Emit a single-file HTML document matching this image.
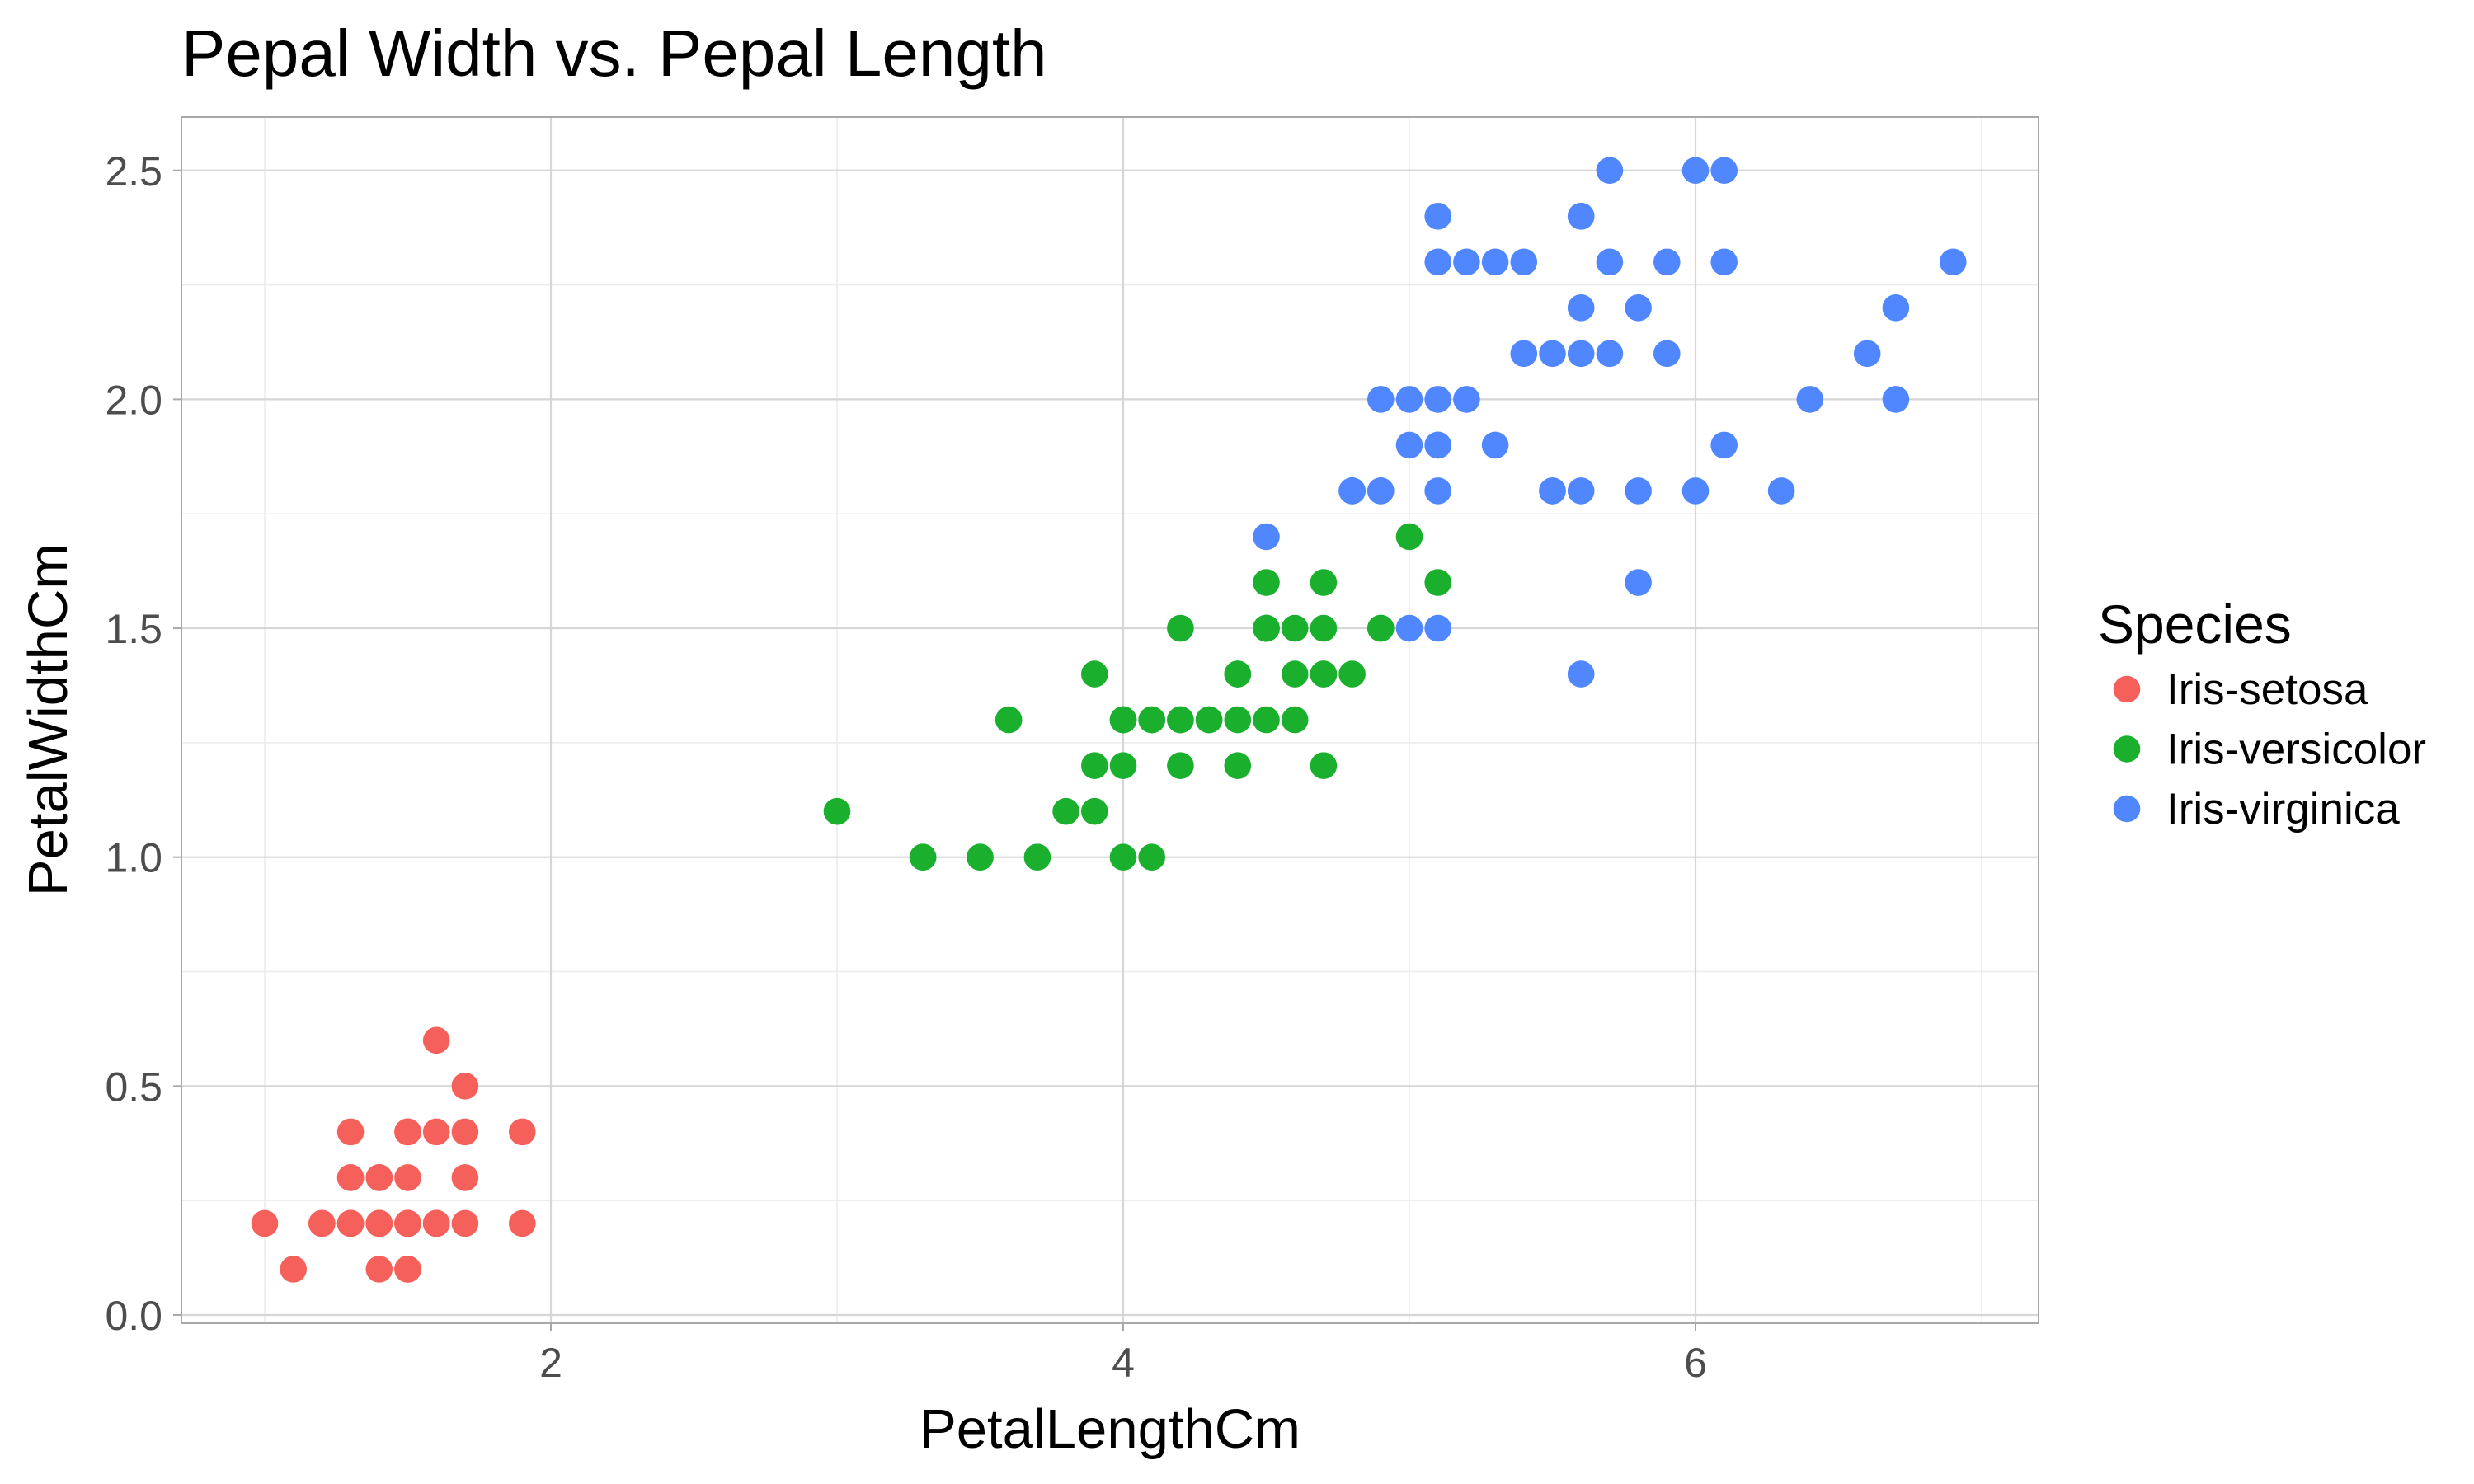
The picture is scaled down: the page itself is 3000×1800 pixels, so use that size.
<!DOCTYPE html>
<html><head><meta charset="utf-8"><style>
html,body{margin:0;padding:0;background:#fff;}
svg{display:block;font-family:"Liberation Sans",Arial,sans-serif;}
</style></head><body>
<svg id="chart" width="3000" height="1800" viewBox="0 0 3000 1800"></svg>
<script>
const setosaX=[1.4,1.4,1.3,1.5,1.4,1.7,1.4,1.5,1.4,1.5,1.5,1.6,1.4,1.1,1.2,1.5,1.3,1.4,1.7,1.5,1.7,1.5,1.0,1.7,1.9,1.6,1.6,1.5,1.4,1.6,1.6,1.5,1.5,1.4,1.5,1.2,1.3,1.5,1.3,1.5,1.3,1.3,1.3,1.6,1.9,1.4,1.6,1.4,1.5,1.4];
const setosaY=[.2,.2,.2,.2,.2,.4,.3,.2,.2,.1,.2,.2,.1,.1,.2,.4,.4,.3,.3,.3,.2,.4,.2,.5,.2,.2,.4,.2,.2,.2,.2,.4,.1,.2,.1,.2,.2,.1,.2,.2,.3,.3,.2,.6,.4,.3,.2,.2,.2,.2];
const versiX=[4.7,4.5,4.9,4.0,4.6,4.5,4.7,3.3,4.6,3.9,3.5,4.2,4.0,4.7,3.6,4.4,4.5,4.1,4.5,3.9,4.8,4.0,4.9,4.7,4.3,4.4,4.8,5.0,4.5,3.5,3.8,3.7,3.9,5.1,4.5,4.5,4.7,4.4,4.1,4.0,4.4,4.6,4.0,3.3,4.2,4.2,4.2,4.3,3.0,4.1];
const versiY=[1.4,1.5,1.5,1.3,1.5,1.3,1.6,1.0,1.3,1.4,1.0,1.5,1.0,1.4,1.3,1.4,1.5,1.0,1.5,1.1,1.8,1.3,1.5,1.2,1.3,1.4,1.4,1.7,1.5,1.0,1.1,1.0,1.2,1.6,1.5,1.6,1.5,1.3,1.3,1.3,1.2,1.4,1.2,1.0,1.3,1.2,1.3,1.3,1.1,1.3];
const virgX=[6.0,5.1,5.9,5.6,5.8,6.6,4.5,6.3,5.8,6.1,5.1,5.3,5.5,5.0,5.1,5.3,5.5,6.7,6.9,5.0,5.7,4.9,6.7,4.9,5.7,6.0,4.8,4.9,5.6,5.8,6.1,6.4,5.6,5.1,5.6,6.1,5.6,5.5,4.8,5.4,5.6,5.1,5.1,5.9,5.7,5.2,5.0,5.2,5.4,5.1];
const virgY=[2.5,1.9,2.1,1.8,2.2,2.1,1.7,1.8,1.8,2.5,2.0,1.9,2.1,2.0,2.4,2.3,1.8,2.2,2.3,1.5,2.3,2.0,2.0,1.8,2.1,1.8,1.8,1.8,2.1,1.6,1.9,2.0,2.2,1.5,1.4,2.3,2.4,1.8,1.8,2.1,2.4,2.3,1.9,2.3,2.5,2.3,1.9,2.0,2.3,1.8];
const xTicks=[2,4,6];
const xMinor=[1,3,5,7];
const yTicks=[0,0.5,1,1.5,2,2.5];
const yMinor=[0.25,0.75,1.25,1.75,2.25];
const yTickLabels=["0.0","0.5","1.0","1.5","2.0","2.5"];
const speciesNames=["Iris-setosa","Iris-versicolor","Iris-virginica"];
const speciesColors=["#F5605A","#1AB02E","#5087FF"];

const NS="http://www.w3.org/2000/svg";
const svg=document.getElementById('chart');
const PL=220,PR=2472,PT=142,PB=1605;
const sx=v=>668+(v-2)*347;
const sy=v=>1595-v*555.3;
function mk(tag,attrs,parent){const e=document.createElementNS(NS,tag);for(const k in attrs)e.setAttribute(k,attrs[k]);(parent||svg).appendChild(e);return e;}

const grid=mk('g',{});


xMinor.forEach(v=>mk('line',{x1:sx(v),x2:sx(v),y1:PT,y2:PB,stroke:'#ebebeb','stroke-width':1.5},grid));
yMinor.forEach(v=>mk('line',{x1:PL,x2:PR,y1:sy(v),y2:sy(v),stroke:'#ebebeb','stroke-width':1.5},grid));
xTicks.forEach(v=>mk('line',{x1:sx(v),x2:sx(v),y1:PT,y2:PB,stroke:'#d6d6d6','stroke-width':2.2},grid));
yTicks.forEach(v=>mk('line',{x1:PL,x2:PR,y1:sy(v),y2:sy(v),stroke:'#d6d6d6','stroke-width':2.2},grid));

const pts=mk('g',{});


[[setosaX,setosaY],[versiX,versiY],[virgX,virgY]].forEach((s,i)=>{
  s[0].forEach((x,j)=>{
    const c=mk('circle',{cx:sx(x),cy:sy(s[1][j]),r:16.3,fill:speciesColors[i]},pts);
    
    
  });
});

const frame=mk('rect',{x:PL,y:PT,width:PR-PL,height:PB-PT,fill:'none',stroke:'#a8a8a8','stroke-width':2});



xTicks.forEach(v=>{
  mk('line',{x1:sx(v),x2:sx(v),y1:PB,y2:PB+10,stroke:'#a8a8a8','stroke-width':2});
  const t=mk('text',{x:sx(v),y:1670,'text-anchor':'middle','font-size':50,fill:'#4d4d4d'});
  t.textContent=v;
  
  
});
yTicks.forEach((v,i)=>{
  mk('line',{x1:PL-10,x2:PL,y1:sy(v),y2:sy(v),stroke:'#a8a8a8','stroke-width':2});
  const t=mk('text',{x:197,y:sy(v)+18,'text-anchor':'end','font-size':50,fill:'#4d4d4d'});
  t.textContent=yTickLabels[i];
  
  
});

let t=mk('text',{x:220,y:92,'font-size':80,fill:'#000'});
t.textContent='Pepal Width vs. Pepal Length';


t=mk('text',{x:1346,y:1756,'text-anchor':'middle','font-size':67,fill:'#000'});
t.textContent='PetalLengthCm';


t=mk('text',{x:0,y:0,'text-anchor':'middle','font-size':67,fill:'#000',transform:'translate(81,873) rotate(-90)'});
t.textContent='PetalWidthCm';



const leg=mk('g',{});


t=mk('text',{x:2544,y:780,'font-size':66,fill:'#000'},leg);
t.textContent='Species';


speciesNames.forEach((n,i)=>{
  const y=836+i*72.5;
  const g=mk('g',{},leg);
  
  
  mk('circle',{cx:2579,cy:y,r:16.3,fill:speciesColors[i]},g);
  const tt=mk('text',{x:2627,y:y+18,'font-size':53,fill:'#000'},g);
  tt.textContent=n;
});
</script>
</body></html>
